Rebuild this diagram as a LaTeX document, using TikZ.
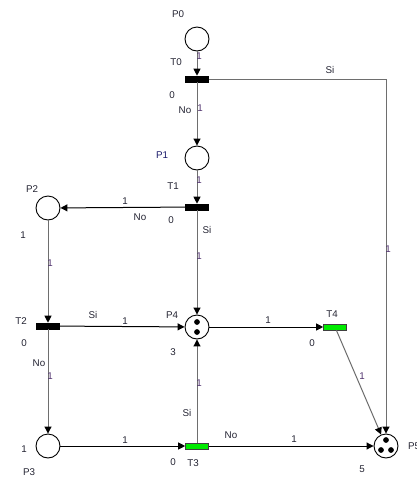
\documentclass[tikz,border=0pt]{standalone}
\usepackage{fontspec}
\setmainfont{Liberation Sans}
\usetikzlibrary{arrows.meta}

\definecolor{edgegray}{RGB}{110,110,110}
\definecolor{wcol}{RGB}{80,50,110}
\definecolor{tcol}{RGB}{35,35,50}
\definecolor{pcol}{RGB}{25,25,105}
\definecolor{fired}{RGB}{0,235,0}

\begin{document}
\begin{tikzpicture}[x=1pt,y=-1pt,
	place/.style={circle,draw,line width=0.9pt,minimum size=24pt,inner sep=0pt},
	trans/.style={rectangle,draw,fill=black,line width=0.6pt,minimum width=23pt,minimum height=6pt,inner sep=0pt},
	transon/.style={trans,fill=fired,draw=black!75},
	arc/.style={line width=1pt,-{Triangle[length=7pt,width=7pt,color=black]}},
	arcg/.style={arc,draw=edgegray},
	lbl/.style={font=\fontsize{9.8}{11}\selectfont,text=tcol,inner sep=0pt},
	wgt/.style={lbl,text=wcol}]
		\useasboundingbox (0,0) rectangle (416,477);
		% places
		\node[place] (P0) at (197,39) {};
		\node[place] (P1) at (197,158) {};
		\node[place] (P2) at (48,208) {};
		\node[place] (P3) at (48,446) {};
		\node[place] (P4) at (197,327) {};
		\node[place] (P5) at (386,446) {};
		% transitions
		\node[trans] (T0) at (197,79) {};
		\node[trans] (T1) at (197,207) {};
		\node[trans] (T2) at (48,326) {};
		\node[transon] (T3) at (197,446) {};
		\node[transon] (T4) at (335,327) {};
		% tokens
		\filldraw[black] (P4.center) ++(0,-5) circle (2.6pt);
		\filldraw[black] (P4.center) ++(0,5) circle (2.6pt);
		\filldraw[black] (P5.center) ++(0,-6) circle (2.6pt);
		\filldraw[black] (P5.center) ++(-5,4) circle (2.6pt);
		\filldraw[black] (P5.center) ++(5,4) circle (2.6pt);
		% arcs
		\draw[arcg] (P0) -- (T0);
		\draw[arcg] (T0) -- (P1);
		\draw[arcg] (T0) -| (P5);
		\draw[arcg] (P1) -- (T1);
		\draw[arc] (T1) -- (P2);
		\draw[arcg] (T1) -- (P4);
		\draw[arcg] (P2) -- (T2);
		\draw[arc] (T2) -- (P4);
		\draw[arcg] (T2) -- (P3);
		\draw[arc] (P4) -- (T4);
		\draw[arcg] (T4) -- (P5);
		\draw[arc] (P3) -- (T3);
		\draw[arcg] (T3) -- (P4);
		\draw[arc] (T3) -- (P5);
		% place labels
		\node[lbl] (nP0) at (178,14) {P0};
		\node[lbl,text=pcol] (nP1) at (162,155) {P1};
		\node[lbl] (nP2) at (32,189) {P2};
		\node[lbl] (mP2) at (23,235) {1};
		\node[lbl] (nP3) at (29,472) {P3};
		\node[lbl] (mP3) at (24,449) {1};
		\node[lbl] (nP4) at (172,315) {P4};
		\node[lbl] (mP4) at (173,352) {3};
		\node[lbl,anchor=west] (nP5) at (408,446) {P5};
		\node[lbl] (mP5) at (362,469) {5};
		% transition labels
		\node[lbl] (nT0) at (176,62) {T0};
		\node[lbl] (kT0) at (172,95) {0};
		\node[lbl] (nT1) at (173,186) {T1};
		\node[lbl] (kT1) at (171,220) {0};
		\node[lbl] (nT2) at (21,321) {T2};
		\node[lbl] (kT2) at (24,343) {0};
		\node[lbl] (nT3) at (193,463) {T3};
		\node[lbl] (kT3) at (173,462) {0};
		\node[lbl] (nT4) at (332,314) {T4};
		\node[lbl] (kT4) at (312,343) {0};
		% Si / No
		\node[lbl] (sT0) at (330,70) {Si};
		\node[lbl] (oT0) at (185,110) {No};
		\node[lbl] (sT1) at (207,230) {Si};
		\node[lbl] (oT1) at (140,217) {No};
		\node[lbl] (sT2) at (93,315) {Si};
		\node[lbl] (oT2) at (39,363) {No};
		\node[lbl] (sT3) at (187,413) {Si};
		\node[lbl] (oT3) at (231,435) {No};
		% weights
		\node[wgt] (w1) at (199,56) {1};
		\node[wgt] (w2) at (200,108) {1};
		\node[wgt] (w3) at (388,249) {1};
		\node[wgt] (w4) at (199,180) {1};
		\node[lbl] (w5) at (125,201) {1};
		\node[wgt] (w6) at (199,256) {1};
		\node[wgt] (w7) at (50,263) {1};
		\node[lbl] (w8) at (125,321) {1};
		\node[wgt] (w9) at (50,376) {1};
		\node[lbl] (w10) at (268,320) {1};
		\node[wgt] (w11) at (199,383) {1};
		\node[wgt] (w12) at (362,376) {1};
		\node[lbl] (w13) at (125,440) {1};
		\node[lbl] (w14) at (294,439) {1};
\end{tikzpicture}
\end{document}
